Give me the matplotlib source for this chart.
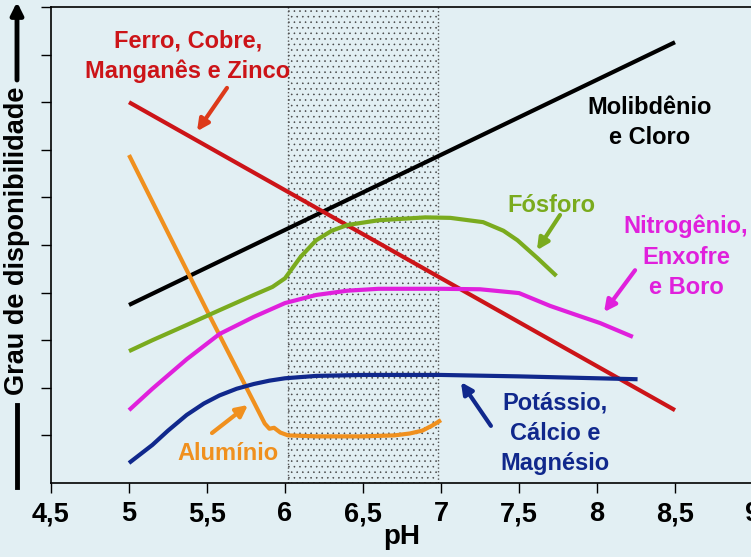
import matplotlib
matplotlib.use("Agg")
import matplotlib.pyplot as plt

plt.rcParams['font.family'] = ['Liberation Sans', 'DejaVu Sans']
plt.rcParams['hatch.linewidth'] = 0.4

# pH values and availability readings (0-10 scale) per nutrient group
ph_mo = [5.0, 8.5]
mo = [3.74, 9.26]

ph_fe = [5.0, 8.5]
fe = [8.0, 1.53]

ph_al = [5.0, 5.5, 5.8, 5.87, 5.9, 5.93, 5.97, 6.02, 6.2, 6.5, 6.7, 6.8, 6.88, 6.94, 7.0]
al = [6.89, 3.62, 1.7, 1.25, 1.14, 1.16, 1.06, 1.0, 0.98, 0.98, 1.0, 1.04, 1.1, 1.2, 1.32]

ph_p = [5.0, 5.15, 5.37, 5.58, 5.8, 5.92, 6.0, 6.1, 6.2, 6.3, 6.4, 6.6, 6.9, 7.06, 7.27,
        7.4, 7.49, 7.62, 7.74]
p = [2.77, 3.0, 3.32, 3.63, 3.95, 4.12, 4.3, 4.75, 5.1, 5.3, 5.42, 5.52, 5.58, 5.57, 5.48,
     5.3, 5.1, 4.72, 4.35]

ph_n = [5.0, 5.15, 5.37, 5.58, 5.8, 6.0, 6.2, 6.4, 6.6, 7.0, 7.25, 7.5, 7.7, 7.85, 8.02, 8.23]
n = [1.53, 1.98, 2.6, 3.13, 3.49, 3.78, 3.95, 4.04, 4.08, 4.08, 4.07, 3.99, 3.72, 3.55, 3.36, 3.07]

ph_k = [5.0, 5.15, 5.25, 5.37, 5.48, 5.58, 5.69, 5.8, 5.9, 6.0, 6.2, 6.5, 7.0, 7.5, 8.0, 8.26]
k = [0.42, 0.8, 1.1, 1.43, 1.67, 1.84, 1.98, 2.08, 2.15, 2.2, 2.25, 2.27, 2.27, 2.24, 2.2, 2.18]

xticks = [4.5, 5, 5.5, 6, 6.5, 7, 7.5, 8, 8.5, 9]
xlabels = ['4,5', '5', '5,5', '6', '6,5', '7', '7,5', '8', '8,5', '9']

bg = '#e2eff3'
red = '#cc1418'
orange = '#f0901e'
green = '#7aab1e'
magenta = '#e020dc'
blue = '#10288c'

fig = plt.figure(figsize=(7.51, 5.57), dpi=100, facecolor=bg)
ax = fig.add_axes([51/751, 74/557, 702/751, 476/557], facecolor=bg)
ax.set_xlim(4.5, 9)
ax.set_ylim(0, 10)

# optimal pH band
ax.axvspan(6.02, 6.98, facecolor='none', edgecolor='#444444', hatch='...', lw=0, zorder=0)
ax.axvline(6.02, color='#555555', lw=1, ls=':', zorder=0)
ax.axvline(6.98, color='#555555', lw=1, ls=':', zorder=0)

lw = 3
for xs, ys, c in [(ph_mo, mo, 'black'), (ph_fe, fe, red), (ph_al, al, orange),
                  (ph_p, p, green), (ph_n, n, magenta), (ph_k, k, blue)]:
    ax.plot(xs, ys, color=c, lw=lw, solid_joinstyle='round', solid_capstyle='butt')

fs = 17
kw = dict(fontsize=fs, fontweight='bold', ha='center', va='center', linespacing=1.4)
ax.text(5.378, 8.97, 'Ferro, Cobre,\nManganês e Zinco', color=red, **kw)
ax.text(8.34, 7.58, 'Molibdênio\ne Cloro', color='black', **kw)
ax.text(7.71, 5.82, 'Fósforo', color=green, **kw)
ax.text(8.57, 4.75, 'Nitrogênio,\nEnxofre\ne Boro', color=magenta, **kw)
ax.text(7.73, 1.05, 'Potássio,\nCálcio e\nMagnésio', color=blue, **kw)
ax.text(5.635, 0.63, 'Alumínio', color=orange, **kw)

def arrow(x0, y0, x1, y1, c):
    ax.annotate('', xy=(x1, y1), xytext=(x0, y0),
                arrowprops=dict(arrowstyle='-|>', lw=3, color=c, mutation_scale=17,
                                shrinkA=0, shrinkB=0))

arrow(5.628, 8.30, 5.436, 7.39, '#dd3a1a')
arrow(7.763, 5.63, 7.615, 4.89, green)
arrow(8.244, 4.47, 8.045, 3.59, magenta)
arrow(7.32, 1.20, 7.128, 2.12, blue)
arrow(5.532, 1.05, 5.763, 1.64, orange)

ax.set_xticks(xticks)
ax.set_xticklabels(xlabels, fontsize=19.5, fontweight='bold')
ax.set_yticks(range(1, 11))
ax.set_yticklabels([])
ax.tick_params(direction='out', length=7, width=1, color='black', pad=6)
ax.spines['right'].set_visible(False)
for s in ['left', 'bottom', 'top']:
    ax.spines[s].set_linewidth(1.2)
ax.set_xlabel('pH', fontsize=20, fontweight='bold', labelpad=-2)

# y-axis label with arrow
fig.text(17/751, 1 - 241/557, 'Grau de disponibilidade', rotation=90, fontsize=19.5,
         fontweight='bold', ha='center', va='center')
fig.patches.append(matplotlib.patches.FancyArrowPatch(
    (17, 557 - 80), (17, 557 - 2), transform=None, arrowstyle='-|>',
    mutation_scale=18, lw=3.5, color='black', shrinkA=0, shrinkB=0))
fig.lines.append(matplotlib.lines.Line2D([17, 17], [557 - 405, 557 - 487],
                                         transform=None, lw=3.5, color='black'))

fig.savefig('out.png', dpi=100, facecolor=bg)
